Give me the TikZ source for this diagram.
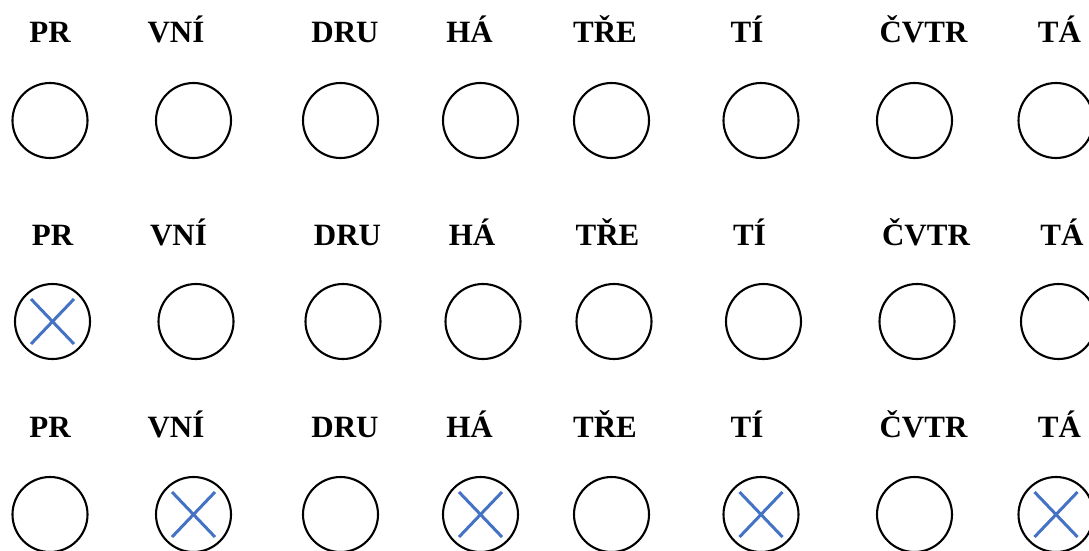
\documentclass[tikz,border=0pt]{standalone}
\usepackage{fontspec}
\setmainfont{Liberation Serif}
\usepackage{xcolor}
\usepackage{tikz}
\usetikzlibrary{calc}
\definecolor{crossblue}{HTML}{4472C4}
\tikzset{
  lbl/.style={anchor=base,inner sep=0pt,font=\fontsize{31}{36}\selectfont\bfseries},
  ring/.style={circle,draw=black,line width=2.1pt,minimum size=75pt,inner sep=0pt},
  cross/.style={crossblue,line width=3pt}
}
\begin{document}
\begin{tikzpicture}[x=1pt,y=-1pt]
\useasboundingbox (0,0) rectangle (1089,551);
\foreach \r/\dx/\yl/\yc in {1/0/43/120.5,2/2.5/245/321.5,3/0/437.5/514.5}{
  \foreach \i/\x/\lx/\t in {1/50/50/PR,2/193.5/176/VNÍ,3/340.5/345/DRU,4/480.5/469.5/HÁ,
                            5/611.5/605/TŘE,6/761/747/TÍ,7/914.5/923.5/ČVTR,8/1056/1059.5/TÁ}{
    \node[lbl] (l\r-\i) at (\lx+\dx,\yl) {\t};
    \node[ring] (c\r-\i) at (\x+\dx,\yc) {};
  }
}
\foreach \c in {c2-1,c3-2,c3-4,c3-6,c3-8}{
  \draw[cross] ($(\c)+(-21.5,-22.5)$) -- ($(\c)+(21.5,22.5)$);
  \draw[cross] ($(\c)+(21.5,-22.5)$) -- ($(\c)+(-21.5,22.5)$);
}
\end{tikzpicture}
\end{document}
